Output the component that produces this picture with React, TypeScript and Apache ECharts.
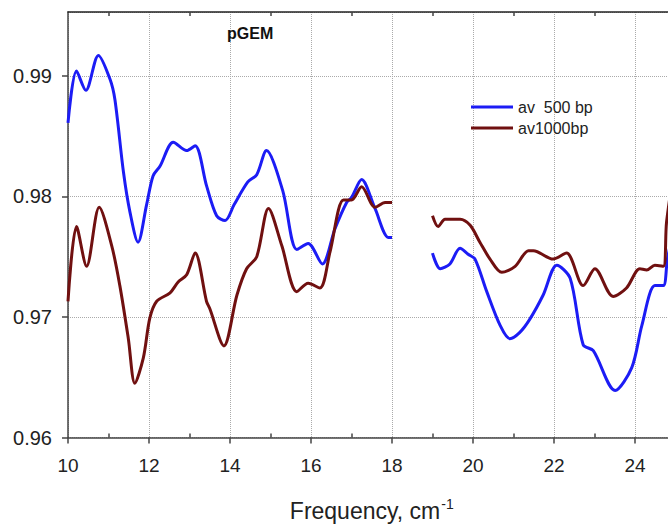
import React, { useEffect, useRef } from "react";
import * as echarts from "echarts";

// av 500 bp – first segment (10–18 cm-1)
const freq500a = [10, 10.21, 10.44, 10.75, 11.04, 11.16, 11.37, 11.53, 11.73, 11.94, 12.1, 12.27, 12.6, 12.93, 13.14, 13.42, 13.67, 13.88, 14.1, 14.44, 14.66, 14.9, 15.3, 15.65, 15.93, 16.28, 16.59, 16.88, 17.0, 17.25, 17.58, 17.91, 18.0];
const val500a = [0.9861, 0.9904, 0.9888, 0.9917, 0.9897, 0.988, 0.982, 0.9787, 0.9762, 0.9793, 0.9817, 0.9825, 0.9845, 0.9838, 0.9842, 0.9809, 0.9784, 0.978, 0.9793, 0.9812, 0.9818, 0.9838, 0.9805, 0.9756, 0.9761, 0.9744, 0.9773, 0.9795, 0.9799, 0.9814, 0.979, 0.9766, 0.9766];
// av 500 bp – second segment (19–25 cm-1)
const freq500b = [19.0, 19.19, 19.43, 19.68, 19.88, 20.05, 20.34, 20.67, 20.91, 21.15, 21.4, 21.73, 22.07, 22.4, 22.72, 22.97, 23.51, 23.92, 24.17, 24.49, 24.7, 24.8, 25.0];
const val500b = [0.9753, 0.974, 0.9744, 0.9757, 0.9752, 0.9748, 0.9721, 0.9693, 0.9682, 0.9687, 0.9698, 0.9718, 0.9743, 0.9732, 0.9677, 0.9672, 0.9639, 0.9658, 0.9693, 0.9726, 0.9726, 0.9748, 0.978];

// av1000bp – first segment
const freq1000a = [10, 10.21, 10.46, 10.77, 11.08, 11.28, 11.49, 11.65, 11.86, 12.02, 12.19, 12.52, 12.72, 12.93, 13.14, 13.42, 13.5, 13.85, 14.17, 14.41, 14.66, 14.95, 15.28, 15.65, 15.93, 16.22, 16.47, 16.8, 17.0, 17.25, 17.58, 17.83, 18.0];
const val1000a = [0.9713, 0.9775, 0.9742, 0.9791, 0.9759, 0.9726, 0.9682, 0.9645, 0.9666, 0.9699, 0.9713, 0.972, 0.9729, 0.9735, 0.9753, 0.9713, 0.9707, 0.9676, 0.9718, 0.974, 0.975, 0.979, 0.9759, 0.9721, 0.9728, 0.9724, 0.9754, 0.9797, 0.9797, 0.9808, 0.9791, 0.9795, 0.9795];
// av1000bp – second segment
const freq1000b = [19.0, 19.14, 19.31, 19.68, 19.93, 20.17, 20.42, 20.71, 21.04, 21.37, 21.49, 21.98, 22.31, 22.72, 23.01, 23.46, 23.79, 24.12, 24.29, 24.49, 24.7, 24.78, 25.0];
const val1000b = [0.9784, 0.9775, 0.9781, 0.9781, 0.9776, 0.9762, 0.9748, 0.9737, 0.9742, 0.9755, 0.9755, 0.9748, 0.9753, 0.9726, 0.974, 0.9717, 0.9724, 0.974, 0.9739, 0.9743, 0.9742, 0.9779, 0.983];

const gapX = 18.5;
const majorX = [10, 12, 14, 16, 18, 20, 22, 24];
const minorX = [11, 13, 15, 17, 19, 21, 23];
const topTicksX = [11, 13, 15, 17, 19, 21, 23, 25];
const seriesNames = ["av  500 bp", "av1000bp"];

const pairs = (xs: number[], ys: number[]) => xs.map((x, i) => [x, ys[i]]);

export default function App() {
  const ref = useRef<HTMLDivElement>(null);
  useEffect(() => {
    if (!ref.current) return;
    const chart = echarts.init(ref.current, null, { renderer: "svg" });
    const axisColor = "#444";
    const font = "'Liberation Sans', Arial, sans-serif";
    const lineIcon = "path://M0,0H43V3H0Z";
    chart.setOption({
      animation: false,
      backgroundColor: "#fff",
      title: {
        text: "pGEM",
        left: 227,
        top: 25,
        padding: 0,
        textStyle: { fontSize: 16, fontWeight: "bold", color: "#111", fontFamily: font },
      },
      legend: {
        orient: "vertical",
        left: 471,
        top: 99,
        padding: 0,
        itemWidth: 42,
        itemHeight: 14,
        itemGap: 5,
        icon: lineIcon,
        symbolKeepAspect: true,
        data: seriesNames,
        textStyle: { fontSize: 16, color: "#222", fontFamily: font, lineHeight: 16 },
      },
      grid: { left: 68, top: 12, right: 14.5, bottom: 87 },
      xAxis: [
        {
          type: "value",
          min: 10,
          max: 25,
          interval: 1,
          position: "bottom",
          name: "{b|Frequency, cm}{s|-1}",
          nameLocation: "middle",
          nameGap: 59,
          nameTextStyle: {
            rich: {
              b: { fontSize: 23, color: "#222", fontFamily: font },
              s: { fontSize: 14, color: "#222", fontFamily: font, padding: [0, 0, 14, 1] },
            },
          },
          axisLine: { show: true, lineStyle: { color: axisColor, width: 1.5 } },
          axisTick: { show: true, inside: false, length: 6, customValues: majorX, lineStyle: { color: axisColor, width: 1.5 } },
          axisLabel: { customValues: majorX, fontSize: 19, color: "#222", fontFamily: font, margin: 18 },
          splitLine: { show: true, lineStyle: { type: "dotted", color: "#aaa", width: 1 } },
        },
        {
          type: "value",
          min: 10,
          max: 25,
          interval: 1,
          position: "bottom",
          axisLine: { show: false },
          axisTick: { show: true, inside: true, length: 4, customValues: minorX, lineStyle: { color: axisColor, width: 1.5 } },
          axisLabel: { show: false },
          splitLine: { show: false },
        },
        {
          type: "value",
          min: 10,
          max: 25,
          interval: 1,
          position: "top",
          axisLine: { show: true, lineStyle: { color: "#222", width: 1.5 } },
          axisTick: { show: true, inside: true, length: 4, customValues: topTicksX, lineStyle: { color: axisColor, width: 1.5 } },
          axisLabel: { show: false },
          splitLine: { show: false },
        },
      ],
      yAxis: {
        type: "value",
        min: 0.96,
        max: 0.9953,
        interval: 0.01,
        axisLine: { show: true, lineStyle: { color: axisColor, width: 1.5 } },
        axisTick: { show: true, inside: false, length: 6, lineStyle: { color: axisColor, width: 1.5 } },
        axisLabel: {
          showMaxLabel: false,
          fontSize: 20,
          color: "#222",
          fontFamily: font,
          margin: 16,
          formatter: (v: number) => v.toFixed(2),
        },
        splitLine: { show: true, lineStyle: { type: "dotted", color: "#aaa", width: 1 } },
      },
      series: [
        {
          name: seriesNames[0],
          type: "line",
          xAxisIndex: 0,
          symbol: "none",
          smooth: 0.3,
          connectNulls: false,
          lineStyle: { color: "#1c1cf5", width: 3 },
          itemStyle: { color: "#1c1cf5" },
          data: [...pairs(freq500a, val500a), [gapX, null], ...pairs(freq500b, val500b)],
          z: 3,
        },
        {
          name: seriesNames[1],
          type: "line",
          xAxisIndex: 0,
          symbol: "none",
          smooth: 0.3,
          connectNulls: false,
          lineStyle: { color: "#701010", width: 3 },
          itemStyle: { color: "#701010" },
          data: [...pairs(freq1000a, val1000a), [gapX, null], ...pairs(freq1000b, val1000b)],
          z: 4,
        },
      ],
    });
    return () => chart.dispose();
  }, []);
  return (
    <div style={{ position: "absolute", left: 0, top: 0, width: 668, height: 527, overflow: "hidden", background: "#fff" }}>
      <div ref={ref} style={{ width: 690, height: 527 }} />
    </div>
  );
}
